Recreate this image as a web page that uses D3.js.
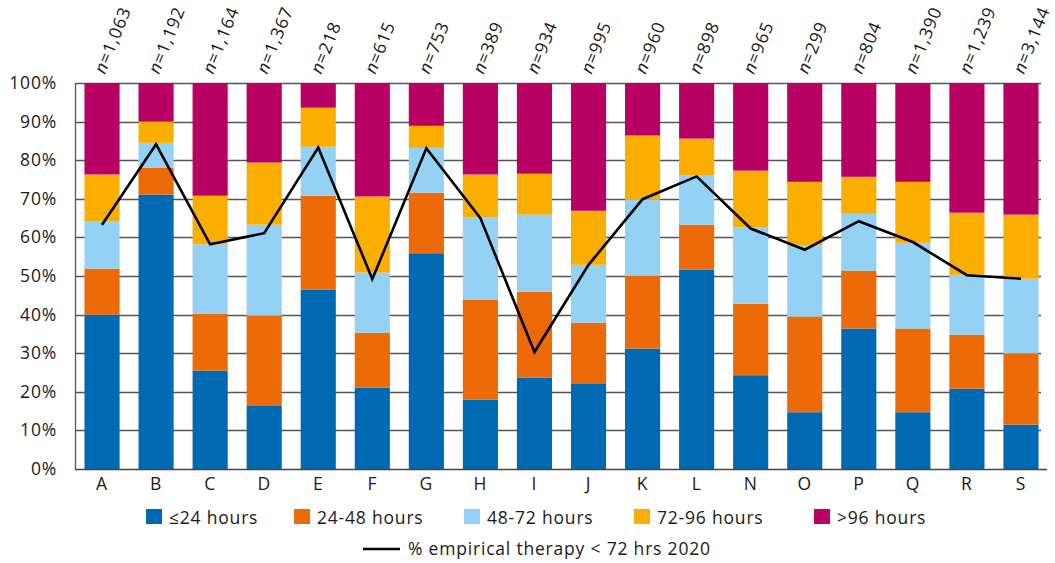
<!DOCTYPE html>
<html>
<head>
<meta charset="utf-8">
<script src="https://cdn.jsdelivr.net/npm/d3@7"></script>
<style>
  html, body { margin: 0; padding: 0; background: #fff; }
  svg { display: block; font-family: "Open Sans", "Noto Sans", sans-serif; }
  text { letter-spacing: 0.8px; }
</style>
</head>
<body>
<svg id="chart" width="1055" height="563"></svg>
<script>
// ---------- data ----------
const categories = ["A","B","C","D","E","F","G","H","I","J","K","L","N","O","P","Q","R","S"];
const sampleSizes = ["1,063","1,192","1,164","1,367","218","615","753","389","934","995","960","898","965","299","804","1,390","1,239","3,144"];
const seriesNames = ["≤24 hours","24-48 hours","48-72 hours","72-96 hours",">96 hours"];
const le24   = [40.0,71.1,25.5,16.5,46.5,21.1,55.9,18.0,23.7,22.2,31.2,51.6,24.3,14.7,36.4,14.7,20.8,11.5];
const h24_48 = [11.9, 7.0,14.7,23.2,24.3,14.2,15.7,25.9,22.2,15.7,18.9,11.7,18.5,24.8,15.0,21.7,14.0,18.4];
const h48_72 = [12.2, 6.4,18.0,23.6,12.7,15.6,11.6,21.3,20.0,15.0,19.8,12.7,19.8,18.4,14.7,22.2,15.5,19.4];
const h72_96 = [12.2, 5.5,12.6,16.1,10.1,19.7, 5.7,11.1,10.6,14.0,16.5, 9.6,14.7,16.5, 9.6,15.8,16.1,16.6];
const gt96   = [23.7,10.0,29.2,20.6, 6.4,29.4,11.1,23.7,23.5,33.1,13.6,14.4,22.7,25.6,24.3,25.6,33.6,34.1];
const empirical = [63.3,84.1,58.2,61.1,83.3,49.2,83.1,65.0,30.3,52.9,69.9,75.8,62.3,56.8,64.2,58.8,50.2,49.3];
const lineName = "% empirical therapy < 72 hrs 2020";
const yTicks = [0,10,20,30,40,50,60,70,80,90,100];
const colors = ["#0069b4","#ec6a08","#93d2f4","#f9ae00","#b90064"];

// ---------- layout ----------
const svg = d3.select("#chart");
const mLeft = 75, mRight = 1048, mTop = 83, mBottom = 469;
const fs = 17.5;

const x = d3.scaleBand().domain(categories).range([mLeft, mRight]).paddingInner(0.35).paddingOuter(0.175);
const y = d3.scaleLinear().domain([0, 100]).range([mBottom, mTop]);

const table = categories.map((c, i) => ({
  cat: c, s0: le24[i], s1: h24_48[i], s2: h48_72[i], s3: h72_96[i], s4: gt96[i]
}));
const keys = ["s0","s1","s2","s3","s4"];
const stacked = d3.stack().keys(keys)(table);

// gridlines
svg.append("g").selectAll("line").data(yTicks.filter(t => t > 0)).join("line")
  .attr("x1", mLeft).attr("x2", 1041)
  .attr("y1", d => Math.round(y(d)) + 0.5).attr("y2", d => Math.round(y(d)) + 0.5)
  .attr("stroke", "#555").attr("stroke-width", 1.3);

// left axis line
svg.append("line").attr("x1", mLeft + 0.5).attr("x2", mLeft + 0.5)
  .attr("y1", mTop).attr("y2", mBottom).attr("stroke", "#555").attr("stroke-width", 1.3);

// bars
svg.append("g").selectAll("g").data(stacked).join("g")
  .attr("fill", (d, i) => colors[i])
  .selectAll("rect").data(d => d).join("rect")
  .attr("x", d => x(d.data.cat))
  .attr("width", x.bandwidth())
  .attr("y", d => y(d[1]))
  .attr("height", d => y(d[0]) - y(d[1]));

// bottom axis line
svg.append("line").attr("x1", mLeft).attr("x2", 1047)
  .attr("y1", Math.round(y(0)) + 0.5).attr("y2", Math.round(y(0)) + 0.5)
  .attr("stroke", "#444").attr("stroke-width", 1.5);

// y labels
svg.append("g").selectAll("text").data(yTicks).join("text")
  .attr("x", 57).attr("y", d => y(d) + 6)
  .attr("text-anchor", "end").attr("font-size", fs).attr("fill", "#1a1a1a")
  .text(d => d + "%");

// x labels
svg.append("g").selectAll("text").data(categories).join("text")
  .attr("x", d => x(d) + x.bandwidth() / 2).attr("y", 489.5)
  .attr("text-anchor", "middle").attr("font-size", fs).attr("fill", "#1a1a1a")
  .text(d => d);

// n labels (rotated)
const nl = svg.append("g").selectAll("text").data(categories).join("text")
  .attr("transform", (d) => `translate(${x(d) + x.bandwidth() / 2 + 3},${75}) rotate(-68)`)
  .attr("font-size", fs).attr("fill", "#1a1a1a");
nl.append("tspan").attr("font-style", "italic").text("n");
nl.append("tspan").text((d, i) => "=" + sampleSizes[i]);

// empirical line
const line = d3.line().x((d, i) => x(categories[i]) + x.bandwidth() / 2).y(d => y(d));
svg.append("path").datum(empirical).attr("d", line)
  .attr("fill", "none").attr("stroke", "#000").attr("stroke-width", 2.6).attr("stroke-linejoin", "miter");

// legend
const legX = [146, 294, 464, 634, 814];
const lg = svg.append("g").selectAll("g").data(seriesNames).join("g")
  .attr("transform", (d, i) => `translate(${legX[i]},509)`);
lg.append("rect").attr("width", 16).attr("height", 15).attr("fill", (d, i) => colors[i]);
lg.append("text").attr("x", 23).attr("y", 14.5).attr("font-size", fs).attr("fill", "#1a1a1a").text(d => d);

svg.append("line").attr("x1", 363).attr("x2", 400).attr("y1", 549).attr("y2", 549)
  .attr("stroke", "#000").attr("stroke-width", 2.6);
svg.append("text").attr("x", 408).attr("y", 555).attr("font-size", fs).attr("fill", "#1a1a1a").text(lineName);
</script>
</body>
</html>
